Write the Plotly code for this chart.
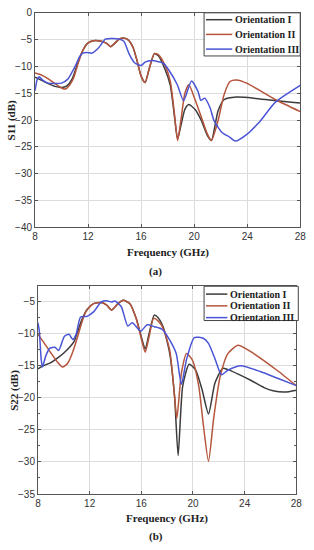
import plotly.graph_objects as go

# ---------------- data: panel (a) S11 ----------------
f_a_I = [8.0, 8.5, 9.0, 9.5, 10.0, 10.4, 10.8, 11.2, 11.6, 12.0, 12.4, 13.0, 13.4, 13.7, 14.0, 14.3, 14.6, 15.0,
         15.4, 15.7, 16.0, 16.3, 16.6, 17.0, 17.3, 17.8, 18.2, 18.5, 18.75, 19.0, 19.3, 19.6, 20.07, 20.55, 21.0,
         21.3, 21.8, 22.25, 23.2, 24.5, 26.15, 28.0]
s_a_I = [-12.0, -12.6, -13.2, -13.7, -13.9, -13.6, -12.3, -9.5, -7.0, -5.6, -5.2, -5.3, -5.7, -6.3, -5.7, -5.0, -4.7, -5.0,
         -6.5, -9.0, -11.8, -13.0, -10.5, -7.6, -8.0, -10.5, -13.5, -19.0, -23.5, -21.0, -18.0, -17.1, -18.0, -20.1, -22.9,
         -23.8, -18.3, -16.2, -15.7, -15.9, -16.4, -16.8]

f_a_II = [8.0, 8.5, 9.0, 9.5, 10.0, 10.3, 10.6, 10.9, 11.2, 11.5, 11.9, 12.4, 13.0, 13.4, 13.7, 14.0, 14.3, 14.6, 15.0,
          15.4, 15.7, 16.0, 16.3, 16.6, 17.0, 17.3, 17.8, 18.2, 18.5, 18.75, 19.0, 19.3, 19.6, 20.07, 20.55, 21.0,
          21.3, 21.8, 22.25, 22.7, 23.2, 23.96, 26.15, 28.0]
s_a_II = [-11.2, -11.6, -12.3, -13.2, -14.0, -14.2, -13.5, -12.2, -9.8, -7.6, -5.8, -5.2, -5.3, -5.7, -6.3, -5.7, -5.0, -4.7, -5.0,
          -6.5, -9.0, -11.8, -13.0, -10.5, -7.6, -7.8, -9.8, -12.8, -18.5, -23.8, -20.0, -15.0, -13.4, -16.2, -19.5, -22.6,
          -23.8, -20.1, -15.3, -12.8, -12.5, -13.1, -16.2, -18.4]

f_a_III = [8.0, 8.15, 8.3, 8.6, 9.0, 10.0, 10.45, 10.8, 11.1, 11.35, 11.6, 11.9, 12.3, 12.8, 13.3, 13.9, 14.35, 14.7,
           15.1, 15.5, 16.0, 16.3, 16.8, 17.3, 17.7, 18.1, 18.73, 19.2, 19.8, 20.3, 20.5, 20.8, 21.2, 21.5, 22.1,
           22.7, 23.1, 24.0, 24.9, 26.15, 28.0]
s_a_III = [-14.5, -12.5, -11.9, -12.6, -13.1, -13.1, -12.4, -11.0, -9.6, -8.2, -7.5, -7.4, -7.5, -6.5, -4.9, -4.8, -4.9, -5.3,
           -7.7, -9.3, -9.8, -9.2, -8.9, -9.1, -9.4, -10.7, -13.4, -16.4, -12.7, -14.7, -16.3, -15.9, -17.7, -20.1, -22.3,
           -23.2, -23.9, -22.6, -20.4, -16.6, -13.5]

# ---------------- data: panel (b) S22 ----------------
f_b_I = [8.0, 8.3, 9.0, 9.5, 10.0, 10.5, 10.8, 11.1, 11.4, 11.8, 12.3, 12.9, 13.3, 13.7, 14.2, 14.6, 15.1, 15.6, 16.0,
         16.3, 16.6, 17.0, 17.3, 17.7, 18.2, 18.57, 18.85, 19.2, 19.7, 20.2, 20.7, 21.2, 21.7, 22.3, 22.7, 23.5,
         24.5, 25.5, 26.2, 27.1, 28.0]
s_b_I = [-15.5, -15.1, -14.5, -13.8, -13.0, -12.0, -11.2, -9.5, -7.8, -6.2, -5.3, -5.15, -5.5, -6.3, -5.3, -4.8, -5.3, -7.6, -10.5,
         -12.4, -10.0, -7.1, -7.5, -9.0, -13.1, -19.7, -29.0, -18.2, -14.75, -15.65, -18.7, -22.5, -17.7, -15.4, -15.6, -16.3,
         -17.3, -18.4, -18.9, -19.1, -18.8]

f_b_II = [8.0, 8.5, 9.0, 9.5, 9.9, 10.3, 10.7, 11.05, 11.4, 11.7, 12.3, 12.9, 13.3, 13.7, 14.2, 14.6, 15.1, 15.6, 16.0,
          16.3, 16.6, 16.95, 17.3, 17.7, 18.2, 18.57, 18.75, 19.1, 19.5, 19.95, 20.45, 20.8, 21.2, 21.6, 22.1, 22.7,
          23.5, 24.7, 26.5, 28.0]
s_b_II = [-10.1, -11.5, -13.0, -14.4, -15.2, -14.6, -12.8, -10.6, -8.2, -6.6, -5.3, -5.15, -5.5, -6.3, -5.3, -4.8, -5.3, -7.6, -10.8,
          -12.9, -10.5, -7.6, -8.0, -9.2, -12.6, -19.7, -23.2, -16.2, -13.1, -14.1, -18.2, -24.2, -29.9, -23.2, -16.7, -13.1,
          -11.8, -13.1, -15.7, -18.1]

f_b_III = [8.0, 8.1, 8.25, 8.35, 8.6, 8.9, 9.3, 9.6, 10.05, 10.4, 10.7, 10.95, 11.3, 11.8, 12.3, 12.9, 13.3, 13.7, 13.96,
           14.45, 14.95, 15.3, 15.95, 16.45, 17.0, 17.6, 18.2, 18.7, 19.1, 19.5, 20.1, 20.8, 21.2, 21.7, 22.2, 22.7,
           23.7, 25.2, 26.5, 28.0]
s_b_III = [-8.3, -9.5, -14.0, -15.2, -13.5, -12.3, -12.1, -12.6, -10.4, -10.1, -10.9, -10.1, -7.4, -7.3, -6.6, -5.05, -4.85, -5.05, -4.9,
           -5.8, -8.8, -8.3, -9.6, -8.6, -8.9, -9.3, -11.0, -13.1, -17.9, -14.0, -10.6, -10.7, -11.5, -13.9, -16.4, -15.7,
           -15.0, -15.9, -16.9, -18.1]

names = ["Orientation I", "Orientation II", "Orientation III"]
colors = ["#3c3c3c", "#b5553c", "#4a55d6"]
x_ticks = [8, 12, 16, 20, 24, 28]

W, H = 314, 550
def px(x): return x / W
def py(y): return 1 - y / H

fig = go.Figure()
for fx, sy, n, c in zip([f_a_I, f_a_II, f_a_III], [s_a_I, s_a_II, s_a_III], names, colors):
    fig.add_trace(go.Scatter(x=fx, y=sy, name=n, mode="lines", showlegend=False,
                             line=dict(color=c, width=1.5, shape="spline", smoothing=0.6), xaxis="x", yaxis="y"))
for fx, sy, n, c in zip([f_b_I, f_b_II, f_b_III], [s_b_I, s_b_II, s_b_III], names, colors):
    fig.add_trace(go.Scatter(x=fx, y=sy, name=n, mode="lines", showlegend=False,
                             line=dict(color=c, width=1.5, shape="spline", smoothing=0.6), xaxis="x2", yaxis="y2"))

tickfont = dict(family="Liberation Sans, Arial", size=10, color="#333")
ax_common = dict(showline=True, linecolor="#555", linewidth=1, mirror="ticks", ticks="inside", ticklen=3,
                 tickcolor="#555", showgrid=True, gridcolor="#dcdcdc", gridwidth=1, zeroline=False, tickfont=tickfont)

fig.update_layout(
    width=W, height=H, margin=dict(l=0, r=0, t=0, b=0),
    paper_bgcolor="white", plot_bgcolor="white",
    xaxis=dict(domain=[px(33), px(306)], range=[8, 28], tickvals=x_ticks, anchor="y", **ax_common),
    yaxis=dict(domain=[py(227), py(8)], range=[-40, 0], dtick=5, anchor="x", **ax_common),
    xaxis2=dict(domain=[px(36), px(302)], range=[8, 28], tickvals=x_ticks, anchor="y2", **ax_common),
    yaxis2=dict(domain=[py(499), py(287)], range=[-35, -2.6], dtick=5, anchor="x2",
                minor=dict(dtick=2.5, ticks="inside", ticklen=2, tickcolor="#555", showgrid=False), **ax_common),
    showlegend=False,
)

# manual compact legends (box, line sample, label)
legend_boxes = [
    dict(x0=207, x1=306, y0=8, y1=52, rows=[15, 30, 45], lx0=209, lx1=236, tx=237, fs=10),
    dict(x0=207, x1=304, y0=287, y1=322, rows=[295, 307, 319], lx0=209, lx1=231, tx=232, fs=10),
]
for lb in legend_boxes:
    fig.add_shape(type="rect", xref="paper", yref="paper", x0=px(lb["x0"]), x1=px(lb["x1"]),
                  y0=py(lb["y1"]), y1=py(lb["y0"]), line=dict(color="#444", width=1), fillcolor="white", layer="above")
    for ry, n, c in zip(lb["rows"], names, colors):
        fig.add_shape(type="line", xref="paper", yref="paper", x0=px(lb["lx0"]), x1=px(lb["lx1"]),
                      y0=py(ry), y1=py(ry), line=dict(color=c, width=1.5), layer="above")
        fig.add_annotation(xref="paper", yref="paper", x=px(lb["tx"]), y=py(ry), text="<b>%s</b>" % n,
                           showarrow=False, xanchor="left", yanchor="middle",
                           font=dict(family="Liberation Serif, Times New Roman", size=lb["fs"], color="#222"))

title_font = dict(family="Liberation Serif, Times New Roman", size=11, color="#222")
ann = [
    dict(text="<b>Frequency (GHz)</b>", x=px(170), y=py(253)),
    dict(text="<b>(a)</b>", x=px(157), y=py(272)),
    dict(text="<b>Frequency (GHz)</b>", x=px(169), y=py(524)),
    dict(text="<b>(b)</b>", x=px(157), y=py(542)),
    dict(text="<b>S11 (dB)</b>", x=px(9), y=py(118), textangle=-90),
    dict(text="<b>S22 (dB)</b>", x=px(11), y=py(393), textangle=-90),
]
for a in ann:
    fig.add_annotation(xref="paper", yref="paper", showarrow=False, xanchor="center", yanchor="middle",
                       font=title_font, **a)

fig.write_html("out.html", config={"displayModeBar": False},
               post_script="document.body.style.margin='0';")
